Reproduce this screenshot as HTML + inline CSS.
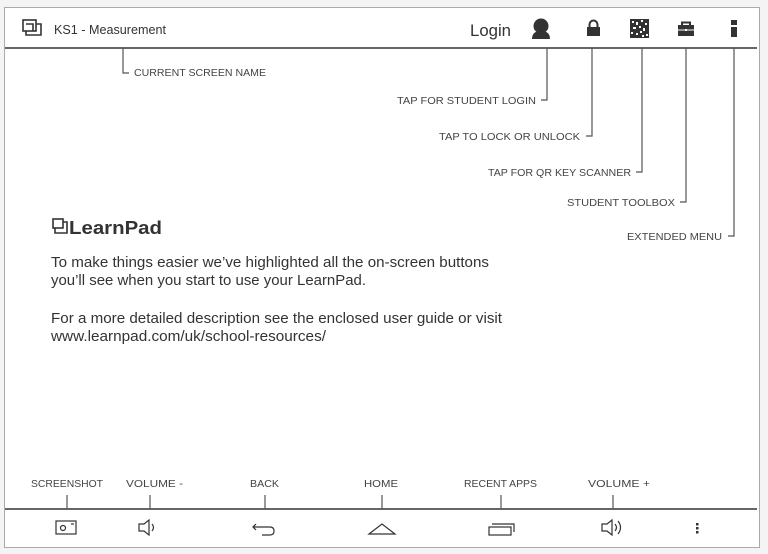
<!DOCTYPE html>
<html><head><meta charset="utf-8"><style>
html,body{margin:0;padding:0;background:#fff;width:768px;height:554px;overflow:hidden}
svg{display:block}
text{font-family:"Liberation Sans",sans-serif;fill:#333}
.l{font-size:10.5px;fill:#444}
</style></head><body>
<svg width="768" height="554" viewBox="0 0 768 554" xmlns="http://www.w3.org/2000/svg">
<rect x="0" y="0" width="768" height="554" fill="#f4f4f4"/>
<rect x="4.5" y="7.5" width="755" height="540" fill="#fff" stroke="#aaa" stroke-width="1"/>
<line x1="5" y1="48" x2="757" y2="48" stroke="#333" stroke-width="1.5"/>
<line x1="5" y1="509" x2="757" y2="509" stroke="#333" stroke-width="1.5"/>
<!-- header -->
<g fill="none" stroke="#333" stroke-width="1.6">
<rect x="23" y="20" width="13" height="11"/>
<path d="M26 31 V35 H41 V24 H36"/>
<path d="M26 24 H33 V31"/>
</g>
<text x="54" y="34" font-size="13" textLength="112" lengthAdjust="spacingAndGlyphs" fill="#222">KS1 - Measurement</text>
<text x="470" y="36" font-size="17" textLength="41" lengthAdjust="spacingAndGlyphs" fill="#222">Login</text>
<circle cx="541" cy="26" r="7.5" fill="#333"/>
<path d="M532 39 Q532 31 541 31 Q550 31 550 39 Z" fill="#333"/>
<rect x="587" y="27" width="13" height="9" fill="#333"/>
<path d="M589.5 28 V24.5 A4 4 0 0 1 597.5 24.5 V28" fill="none" stroke="#333" stroke-width="2"/>
<rect x="630" y="19" width="19" height="19" fill="#333"/>
<g fill="#fff"><rect x="632" y="21" width="2" height="2"/><rect x="636" y="22" width="2" height="3"/><rect x="641" y="20" width="2" height="2"/><rect x="645" y="23" width="2" height="2"/><rect x="633" y="27" width="3" height="2"/><rect x="639" y="26" width="2" height="2"/><rect x="643" y="28" width="2" height="3"/><rect x="631" y="32" width="2" height="2"/><rect x="636" y="33" width="2" height="2"/><rect x="640" y="31" width="2" height="2"/><rect x="646" y="34" width="2" height="2"/><rect x="642" y="35" width="2" height="2"/></g>
<rect x="678" y="25" width="16" height="11" fill="#333"/>
<path d="M682 25 V22.5 H690 V25" fill="none" stroke="#333" stroke-width="2"/>
<rect x="678" y="29.5" width="16" height="1" fill="#fff"/>
<rect x="685" y="29" width="2" height="2" fill="#fff"/>
<rect x="731" y="20" width="6" height="5" fill="#333"/>
<rect x="731" y="27" width="6" height="10" fill="#333"/>
<!-- connectors top -->
<g fill="none" stroke="#555" stroke-width="1.2">
<path d="M123 48 V73 H129"/>
<path d="M547 48 V100 H541"/>
<path d="M592 48 V136 H586"/>
<path d="M642 48 V172 H636"/>
<path d="M686 48 V202 H680"/>
<path d="M734 48 V236 H728"/>
</g>
<text class="l" x="134" y="76" textLength="132" lengthAdjust="spacingAndGlyphs">CURRENT SCREEN NAME</text>
<text class="l" x="397" y="104" textLength="139" lengthAdjust="spacingAndGlyphs">TAP FOR STUDENT LOGIN</text>
<text class="l" x="439" y="140" textLength="141" lengthAdjust="spacingAndGlyphs">TAP TO LOCK OR UNLOCK</text>
<text class="l" x="488" y="176" textLength="143" lengthAdjust="spacingAndGlyphs">TAP FOR QR KEY SCANNER</text>
<text class="l" x="567" y="206" textLength="108" lengthAdjust="spacingAndGlyphs">STUDENT TOOLBOX</text>
<text class="l" x="627" y="240" textLength="95" lengthAdjust="spacingAndGlyphs">EXTENDED MENU</text>
<!-- logo -->
<g fill="none" stroke="#333" stroke-width="1.6">
<rect x="53" y="219" width="10" height="9"/>
<path d="M55 228 V233 H67 V222 H63"/>
</g>
<text x="69" y="234" font-size="18" font-weight="bold" textLength="93" lengthAdjust="spacingAndGlyphs" fill="#333">LearnPad</text>
<g font-size="14.5" fill="#333">
<text x="51" y="267" textLength="438" lengthAdjust="spacingAndGlyphs">To make things easier we’ve highlighted all the on-screen buttons</text>
<text x="51" y="285" textLength="315" lengthAdjust="spacingAndGlyphs">you’ll see when you start to use your LearnPad.</text>
<text x="51" y="323" textLength="451" lengthAdjust="spacingAndGlyphs">For a more detailed description see the enclosed user guide or visit</text>
<text x="51" y="341" textLength="275" lengthAdjust="spacingAndGlyphs">www.learnpad.com/uk/school-resources/</text>
</g>
<!-- bottom -->
<text class="l" x="31" y="487" textLength="72" lengthAdjust="spacingAndGlyphs">SCREENSHOT</text>
<text class="l" x="126" y="487" textLength="57" lengthAdjust="spacingAndGlyphs">VOLUME -</text>
<text class="l" x="250" y="487" textLength="29" lengthAdjust="spacingAndGlyphs">BACK</text>
<text class="l" x="364" y="487" textLength="34" lengthAdjust="spacingAndGlyphs">HOME</text>
<text class="l" x="464" y="487" textLength="73" lengthAdjust="spacingAndGlyphs">RECENT APPS</text>
<text class="l" x="588" y="487" textLength="62" lengthAdjust="spacingAndGlyphs">VOLUME +</text>
<g stroke="#555" stroke-width="1.2">
<line x1="67" y1="495" x2="67" y2="509"/>
<line x1="150" y1="495" x2="150" y2="509"/>
<line x1="265" y1="495" x2="265" y2="509"/>
<line x1="382" y1="495" x2="382" y2="509"/>
<line x1="501" y1="495" x2="501" y2="509"/>
<line x1="613" y1="495" x2="613" y2="509"/>
</g>
<g fill="none" stroke="#333" stroke-width="1.2">
<rect x="56" y="521" width="20" height="13"/>
<circle cx="63" cy="528" r="2.5"/>
<line x1="71" y1="524" x2="74" y2="524"/>
<path d="M139 524 H144 L149 520 V535 L144 531 H139 Z"/>
<path d="M152 524 Q155 527.5 152 531"/>
<path d="M253 527 H270 Q274 527 274 531 Q274 535 270 535 H262"/>
<path d="M256 524 L253 527 L256 530"/>
<path d="M369 534 L382 524 L395 534 Z"/>
<rect x="489" y="527" width="22" height="8"/>
<path d="M492 524 H514 V532"/>
<path d="M602 524 H607 L612 520 V535 L607 531 H602 Z"/>
<path d="M615 524 Q618 527.5 615 531"/>
<path d="M618 521 Q623 527.5 618 534"/>
</g>
<g fill="#333">
<rect x="696" y="523" width="2.5" height="2.5"/>
<rect x="696" y="527" width="2.5" height="2.5"/>
<rect x="696" y="531" width="2.5" height="2.5"/>
</g>
</svg>
</body></html>
